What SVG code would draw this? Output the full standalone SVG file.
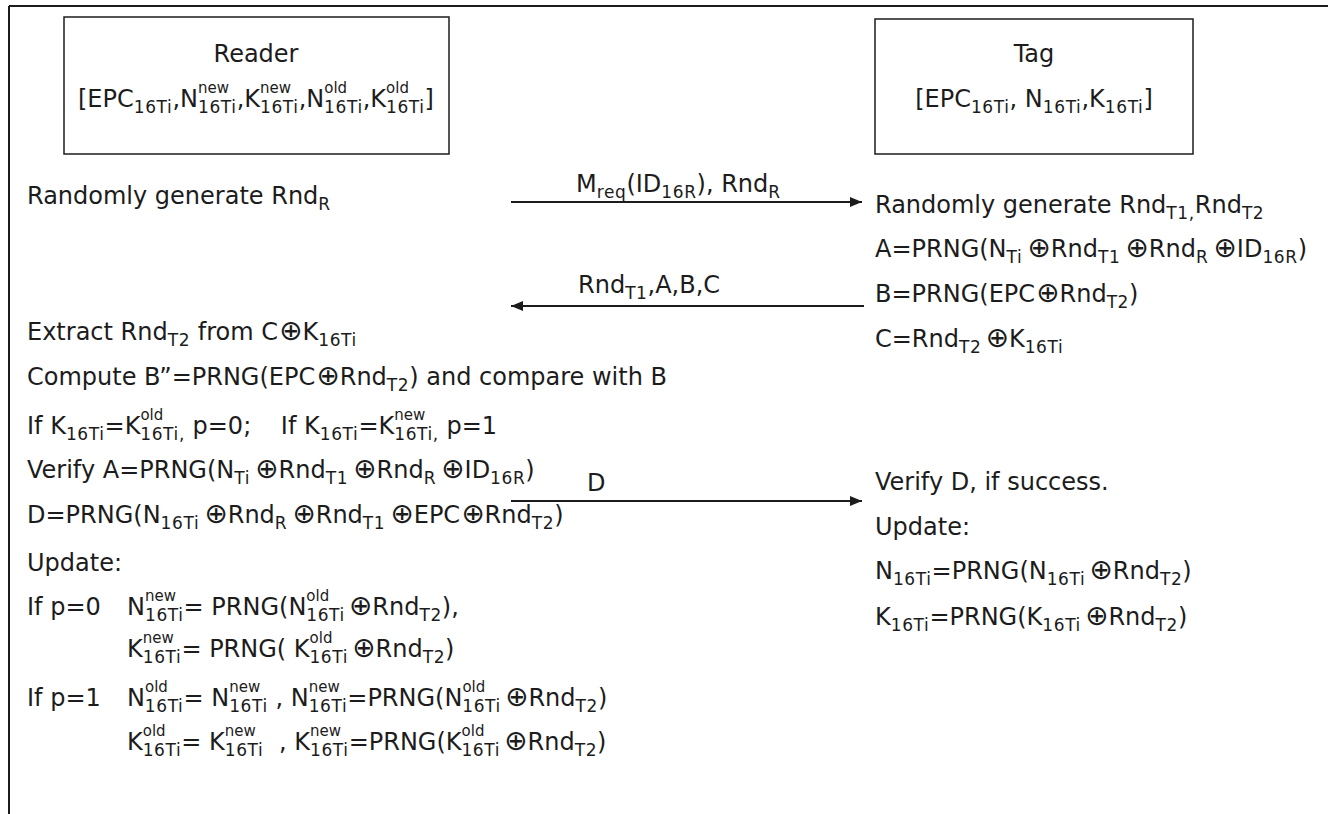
<svg xmlns="http://www.w3.org/2000/svg" width="1328" height="814" viewBox="0 0 1328 814">
<defs>
<style>
.t{font-family:"DejaVu Sans",sans-serif;font-size:24px;fill:#1c1c1c}
.s{font-size:17px;letter-spacing:0.6px}
.u{font-size:15px}
.o{font-size:28px}
.box{fill:none;stroke:#1c1c1c;stroke-width:1.5}
.ln{stroke:#1c1c1c;stroke-width:2;fill:none}
</style>
<marker id="ah" markerWidth="12" markerHeight="10" refX="12" refY="5" orient="auto" markerUnits="userSpaceOnUse">
<path d="M0,0 L12,5 L0,10 Z" fill="#1c1c1c"/>
</marker>
</defs>
<rect width="1328" height="814" fill="#fff"/>
<g id="frame">
<line class="ln" x1="9" y1="6" x2="1328" y2="6"/>
<line class="ln" x1="9" y1="6" x2="9" y2="814"/>
</g>
<g id="reader">
<rect class="box" x="64" y="17" width="385" height="137"/>
<text class="t" x="256" y="62" text-anchor="middle">Reader</text>
<text class="t" x="256" y="107" text-anchor="middle">[EPC<tspan class="s" dy="6">16Ti</tspan><tspan dy="-6">,N</tspan><tspan class="u" dy="-14">new</tspan><tspan class="s" dx="-31" dy="20">16Ti</tspan><tspan dy="-6">,K</tspan><tspan class="u" dy="-14">new</tspan><tspan class="s" dx="-31" dy="20">16Ti</tspan><tspan dy="-6">,N</tspan><tspan class="u" dy="-14">old</tspan><tspan class="s" dx="-23" dy="20">16Ti</tspan><tspan dy="-6">,K</tspan><tspan class="u" dy="-14">old</tspan><tspan class="s" dx="-23" dy="20">16Ti</tspan><tspan dy="-6">]</tspan></text>
</g>
<g id="tag">
<rect class="box" x="875" y="19" width="318" height="135"/>
<text class="t" x="1034" y="62" text-anchor="middle">Tag</text>
<text class="t" x="1034" y="107" text-anchor="middle">[EPC<tspan class="s" dy="6">16Ti</tspan><tspan dy="-6">, N</tspan><tspan class="s" dy="6">16Ti</tspan><tspan dy="-6">,K</tspan><tspan class="s" dy="6">16Ti</tspan><tspan dy="-6">]</tspan></text>
</g>
<g id="connectors">
<line class="ln" x1="511" y1="202" x2="862" y2="202" marker-end="url(#ah)"/>
<line class="ln" x1="864" y1="306" x2="511" y2="306" marker-end="url(#ah)"/>
<line class="ln" x1="511" y1="501" x2="862" y2="501" marker-end="url(#ah)"/>
<text class="t" x="576" y="192">M<tspan class="s" dy="6">req</tspan><tspan dy="-6">(ID</tspan><tspan class="s" dy="6">16R</tspan><tspan dy="-6">), Rnd</tspan><tspan class="s" dy="6">R</tspan></text>
<text class="t" x="578" y="293">Rnd<tspan class="s" dy="6">T1</tspan><tspan dy="-6">,A,B,C</tspan></text>
<text class="t" x="587" y="491">D</text>
</g>
<g id="reader-steps">
<text class="t" x="27" y="204">Randomly generate Rnd<tspan class="s" dy="6">R</tspan></text>
<text class="t" x="27" y="340">Extract Rnd<tspan class="s" dy="6">T2</tspan><tspan dy="-6"> from C</tspan><tspan class="o" dx="1">⊕</tspan>K<tspan class="s" dy="6">16Ti</tspan></text>
<text class="t" x="27" y="385">Compute B”=PRNG(EPC<tspan class="o" dx="1">⊕</tspan>Rnd<tspan class="s" dy="6">T2</tspan><tspan dy="-6">) and compare with B</tspan></text>
<text class="t" x="27" y="434">If K<tspan class="s" dy="6">16Ti</tspan><tspan dy="-6">=K</tspan><tspan class="u" dy="-14">old</tspan><tspan class="s" dx="-23" dy="20">16Ti,</tspan><tspan dy="-6"> p=0;</tspan><tspan dx="22"> If K</tspan><tspan class="s" dy="6">16Ti</tspan><tspan dy="-6">=K</tspan><tspan class="u" dy="-14">new</tspan><tspan class="s" dx="-31" dy="20">16Ti,</tspan><tspan dy="-6"> p=1</tspan></text>
<text class="t" x="27" y="478">Verify A=PRNG(N<tspan class="s" dy="6">Ti</tspan><tspan class="o" dx="5" dy="-6">⊕</tspan>Rnd<tspan class="s" dy="6">T1</tspan><tspan class="o" dx="5" dy="-6">⊕</tspan>Rnd<tspan class="s" dy="6">R</tspan><tspan class="o" dx="5" dy="-6">⊕</tspan>ID<tspan class="s" dy="6">16R</tspan><tspan dy="-6">)</tspan></text>
<text class="t" x="27" y="523">D=PRNG(N<tspan class="s" dy="6">16Ti</tspan><tspan class="o" dx="5" dy="-6">⊕</tspan>Rnd<tspan class="s" dy="6">R</tspan><tspan class="o" dx="5" dy="-6">⊕</tspan>Rnd<tspan class="s" dy="6">T1</tspan><tspan class="o" dx="5" dy="-6">⊕</tspan>EPC<tspan class="o" dx="1">⊕</tspan>Rnd<tspan class="s" dy="6">T2</tspan><tspan dy="-6">)</tspan></text>
<text class="t" x="27" y="571">Update:</text>
<text class="t" x="27" y="615">If p=0</text>
<text class="t" x="127" y="615">N<tspan class="u" dy="-14">new</tspan><tspan class="s" dx="-31" dy="20">16Ti</tspan><tspan dy="-6">= PRNG(N</tspan><tspan class="u" dy="-14">old</tspan><tspan class="s" dx="-23" dy="20">16Ti</tspan><tspan class="o" dx="4" dy="-6">⊕</tspan>Rnd<tspan class="s" dy="6">T2</tspan><tspan dy="-6">),</tspan></text>
<text class="t" x="127" y="657">K<tspan class="u" dy="-14">new</tspan><tspan class="s" dx="-31" dy="20">16Ti</tspan><tspan dy="-6">= PRNG( K</tspan><tspan class="u" dy="-14">old</tspan><tspan class="s" dx="-23" dy="20">16Ti</tspan><tspan class="o" dx="4" dy="-6">⊕</tspan>Rnd<tspan class="s" dy="6">T2</tspan><tspan dy="-6">)</tspan></text>
<text class="t" x="27" y="706">If p=1</text>
<text class="t" x="127" y="706">N<tspan class="u" dy="-14">old</tspan><tspan class="s" dx="-23" dy="20">16Ti</tspan><tspan dy="-6">= N</tspan><tspan class="u" dy="-14">new</tspan><tspan class="s" dx="-31" dy="20">16Ti</tspan><tspan dy="-6"> , N</tspan><tspan class="u" dy="-14">new</tspan><tspan class="s" dx="-31" dy="20">16Ti</tspan><tspan dy="-6">=PRNG(N</tspan><tspan class="u" dy="-14">old</tspan><tspan class="s" dx="-23" dy="20">16Ti</tspan><tspan class="o" dx="4" dy="-6">⊕</tspan>Rnd<tspan class="s" dy="6">T2</tspan><tspan dy="-6">)</tspan></text>
<text class="t" x="127" y="750">K<tspan class="u" dy="-14">old</tspan><tspan class="s" dx="-23" dy="20">16Ti</tspan><tspan dy="-6">= K</tspan><tspan class="u" dy="-14">new</tspan><tspan class="s" dx="-31" dy="20">16Ti</tspan><tspan dy="-6" dx="8"> , K</tspan><tspan class="u" dy="-14">new</tspan><tspan class="s" dx="-31" dy="20">16Ti</tspan><tspan dy="-6">=PRNG(K</tspan><tspan class="u" dy="-14">old</tspan><tspan class="s" dx="-23" dy="20">16Ti</tspan><tspan class="o" dx="4" dy="-6">⊕</tspan>Rnd<tspan class="s" dy="6">T2</tspan><tspan dy="-6">)</tspan></text>
</g>
<g id="tag-steps">
<text class="t" x="875" y="213">Randomly generate Rnd<tspan class="s" dy="6">T1,</tspan><tspan dy="-6">Rnd</tspan><tspan class="s" dy="6">T2</tspan></text>
<text class="t" x="875" y="257">A=PRNG(N<tspan class="s" dy="6">Ti</tspan><tspan class="o" dx="5" dy="-6">⊕</tspan>Rnd<tspan class="s" dy="6">T1</tspan><tspan class="o" dx="5" dy="-6">⊕</tspan>Rnd<tspan class="s" dy="6">R</tspan><tspan class="o" dx="5" dy="-6">⊕</tspan>ID<tspan class="s" dy="6">16R</tspan><tspan dy="-6">)</tspan></text>
<text class="t" x="875" y="302">B=PRNG(EPC<tspan class="o" dx="1">⊕</tspan>Rnd<tspan class="s" dy="6">T2</tspan><tspan dy="-6">)</tspan></text>
<text class="t" x="875" y="347">C=Rnd<tspan class="s" dy="6">T2</tspan><tspan class="o" dx="4" dy="-6">⊕</tspan>K<tspan class="s" dy="6">16Ti</tspan></text>
<text class="t" x="875" y="490">Verify D, if success.</text>
<text class="t" x="875" y="535">Update:</text>
<text class="t" x="875" y="579">N<tspan class="s" dy="6">16Ti</tspan><tspan dy="-6">=PRNG(N</tspan><tspan class="s" dy="6">16Ti</tspan><tspan class="o" dx="4" dy="-6">⊕</tspan>Rnd<tspan class="s" dy="6">T2</tspan><tspan dy="-6">)</tspan></text>
<text class="t" x="875" y="625">K<tspan class="s" dy="6">16Ti</tspan><tspan dy="-6">=PRNG(K</tspan><tspan class="s" dy="6">16Ti</tspan><tspan class="o" dx="4" dy="-6">⊕</tspan>Rnd<tspan class="s" dy="6">T2</tspan><tspan dy="-6">)</tspan></text>
</g>
</svg>
